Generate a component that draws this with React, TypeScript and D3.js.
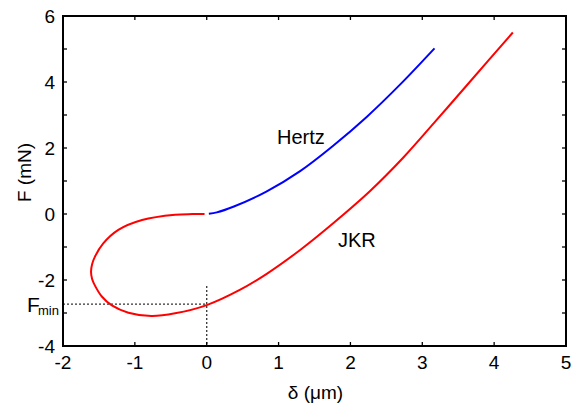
import React from "react";
import * as d3 from "d3";

const W = 572;
const H = 405;

// JKR curve (δ in µm, F in mN), read along the curve from the origin
const jkrDelta = [-0.03, -0.2, -0.44, -0.9, -1.23, -1.44, -1.555, -1.595, -1.61, -1.595, -1.555, -1.46, -1.32, -1.09, -0.77, -0.44, 0, 0.46, 0.83, 1.3, 1.76, 2.27, 2.74, 3.2, 3.66, 4.26];
const jkrForce = [0, -0.003, -0.02, -0.18, -0.48, -0.89, -1.29, -1.52, -1.75, -1.97, -2.17, -2.5, -2.77, -2.99, -3.09, -3.01, -2.76, -2.3, -1.82, -1.09, -0.28, 0.69, 1.72, 2.85, 4.0, 5.5];

// Hertz curve
const hertzDelta = [0.03, 0.14, 0.37, 0.83, 1.3, 1.76, 2.23, 2.69, 3.17];
const hertzForce = [0.01, 0.05, 0.22, 0.68, 1.3, 2.07, 2.95, 3.92, 5.02];

// axis ticks
const xTicks = [-2, -1, 0, 1, 2, 3, 4, 5];
const yTicks = [-4, -3, -2, -1, 0, 1, 2, 3, 4, 5, 6];
const yLabels = [-4, -2, 0, 2, 4, 6];

// F_min guide
const fMin = -2.73;
const guideTop = -2.18;

const margin = { left: 63, top: 16, right: 6, bottom: 59 };

export default function App() {
  const x = d3.scaleLinear().domain([-2, 5]).range([margin.left, W - margin.right]);
  const y = d3.scaleLinear().domain([-4, 6]).range([H - margin.bottom, margin.top]);

  const line = d3
    .line<[number, number]>()
    .x((d) => x(d[0]))
    .y((d) => y(d[1]))
    .curve(d3.curveCatmullRom.alpha(0.5));

  const jkr = jkrDelta.map((d, i) => [d, jkrForce[i]] as [number, number]);
  const hertz = hertzDelta.map((d, i) => [d, hertzForce[i]] as [number, number]);

  const font = "'Liberation Sans', Arial, sans-serif";
  const x0 = x(-2), x1 = x(5), y0 = y(-4), y1 = y(6);
  const tl = 4;

  return (
    <svg width={W} height={H} style={{ position: "absolute", left: 0, top: 0, background: "#fff" }} fontFamily={font}>
      <rect x={0} y={0} width={W} height={H} fill="#fff" />
      {/* F_min guides */}
      <line x1={x0} x2={x(0)} y1={y(fMin)} y2={y(fMin)} stroke="#333" strokeWidth={1.3} strokeDasharray="2,2" />
      <line x1={x(0)} x2={x(0)} y1={y(guideTop)} y2={y0} stroke="#333" strokeWidth={1.3} strokeDasharray="2,2" />
      {/* curves */}
      <path d={line(jkr) || ""} fill="none" stroke="#ff0000" strokeWidth={2} />
      <path d={line(hertz) || ""} fill="none" stroke="#0000ff" strokeWidth={2} />
      {/* ticks */}
      {xTicks.map((t) => (
        <g key={"x" + t}>
          <line x1={x(t)} x2={x(t)} y1={y0} y2={y0 - tl} stroke="#000" strokeWidth={1.3} />
          <line x1={x(t)} x2={x(t)} y1={y1} y2={y1 + tl} stroke="#000" strokeWidth={1.3} />
          <text x={x(t)} y={369} fontSize={19} textAnchor="middle">{t < 0 ? "-" + Math.abs(t) : t}</text>
        </g>
      ))}
      {yTicks.map((t) => (
        <g key={"y" + t}>
          <line x1={x0} x2={x0 + tl} y1={y(t)} y2={y(t)} stroke="#000" strokeWidth={1.3} />
          <line x1={x1} x2={x1 - tl} y1={y(t)} y2={y(t)} stroke="#000" strokeWidth={1.3} />
        </g>
      ))}
      {yLabels.map((t) => (
        <text key={"yl" + t} x={55} y={y(t) + 7} fontSize={19} textAnchor="end">{t < 0 ? "-" + Math.abs(t) : t}</text>
      ))}
      {/* frame */}
      <rect x={x0} y={y1} width={x1 - x0} height={y0 - y1} fill="none" stroke="#000" strokeWidth={2} />
      {/* labels */}
      <text x={277} y={144} fontSize={20}>Hertz</text>
      <text x={338} y={247} fontSize={20}>JKR</text>
      <text x={27} y={312} fontSize={21}>F</text>
      <text x={38} y={315} fontSize={13}>min</text>
      <text x={315.5} y={399} fontSize={19} textAnchor="middle">δ (μm)</text>
      <text transform={`translate(31,172.5) rotate(-90)`} fontSize={19} textAnchor="middle">F (mN)</text>
    </svg>
  );
}
